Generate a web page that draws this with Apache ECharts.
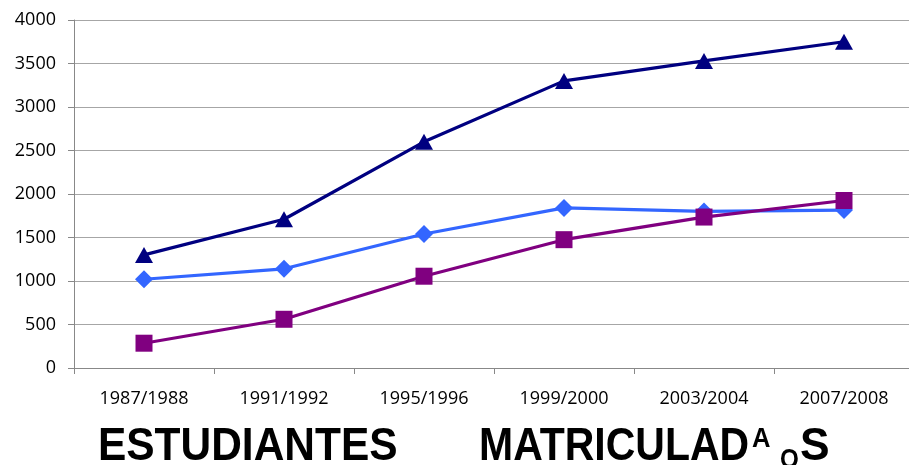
<!DOCTYPE html>
<html>
<head>
<meta charset="utf-8">
<script src="https://cdn.jsdelivr.net/npm/echarts@6/dist/echarts.min.js"></script>
<style>
html,body{margin:0;padding:0;background:#fff;overflow:hidden;width:909px;height:465px;}
#chart{width:920px;height:465px;}
</style>
</head>
<body>
<div id="chart"></div>
<script>
// ---- data ----
const categories = ['1987/1988', '1991/1992', '1995/1996', '1999/2000', '2003/2004', '2007/2008'];
const triangleValues = [1300, 1710, 2600, 3300, 3530, 3750];
const diamondValues = [1020, 1140, 1540, 1840, 1800, 1815];
const squareValues = [285, 560, 1055, 1475, 1735, 1925];
const yMin = 0, yMax = 4000, yInterval = 500;
const titleParts = ['ESTUDIANTES', 'MATRICULAD', 'A', 'O', 'S'];

// ---- title layout helpers (styling only) ----
const FONT_FAMILY = '"Liberation Sans", Arial, sans-serif';
const ctx = document.createElement('canvas').getContext('2d');
function fitText(text, size, inkLeft, inkWidth, y) {
  ctx.font = 'bold ' + size + 'px ' + FONT_FAMILY;
  const m = ctx.measureText(text);
  const ink = m.actualBoundingBoxLeft + m.actualBoundingBoxRight;
  const s = inkWidth / ink;
  return {
    type: 'text',
    x: inkLeft + s * m.actualBoundingBoxLeft,
    y: y,
    scaleX: s,
    silent: true,
    style: {
      text: text,
      fill: '#000',
      font: 'bold ' + size + 'px ' + FONT_FAMILY,
      textAlign: 'left',
      textVerticalAlign: 'middle'
    }
  };
}

const chart = echarts.init(document.getElementById('chart'), null, {renderer: 'canvas'});
const labelFont = {fontFamily: '"Open Sans", sans-serif', fontSize: 18, color: '#000'};

chart.setOption({
  animation: false,
  grid: {left: 74, top: 20, width: 840, height: 348, containLabel: false},
  xAxis: {
    type: 'category',
    data: categories,
    boundaryGap: true,
    axisLine: {lineStyle: {color: '#888', width: 1}},
    axisTick: {show: true, length: 6, lineStyle: {color: '#888'}},
    axisLabel: Object.assign({margin: 22, interval: 0}, labelFont),
    splitLine: {show: false}
  },
  yAxis: {
    type: 'value',
    min: yMin, max: yMax, interval: yInterval,
    axisLine: {show: true, lineStyle: {color: '#888', width: 1}},
    axisTick: {show: true, length: 6, lineStyle: {color: '#888'}},
    axisLabel: Object.assign({margin: 18, formatter: function (v) { return String(v); }}, labelFont),
    splitLine: {show: true, lineStyle: {color: '#a6a6a6', width: 1}}
  },
  series: [
    {
      type: 'line', data: triangleValues,
      symbol: 'triangle', symbolSize: [18, 16],
      lineStyle: {color: '#000080', width: 3.2},
      itemStyle: {color: '#000080'}
    },
    {
      type: 'line', data: diamondValues,
      symbol: 'diamond', symbolSize: 18,
      lineStyle: {color: '#3366FF', width: 3.2},
      itemStyle: {color: '#3366FF'}
    },
    {
      type: 'line', data: squareValues,
      symbol: 'rect', symbolSize: 17,
      lineStyle: {color: '#800080', width: 3.2},
      itemStyle: {color: '#800080'}
    }
  ],
  graphic: [
    fitText(titleParts[0], 46, 100.7, 295.3, 447.3),
    fitText(titleParts[1], 46, 481.7, 266.3, 447.3),
    fitText(titleParts[2], 27, 752, 18, 440),
    fitText(titleParts[3], 27, 781, 17, 461),
    fitText(titleParts[4], 46, 801, 27, 447.3)
  ]
});
</script>
</body>
</html>
